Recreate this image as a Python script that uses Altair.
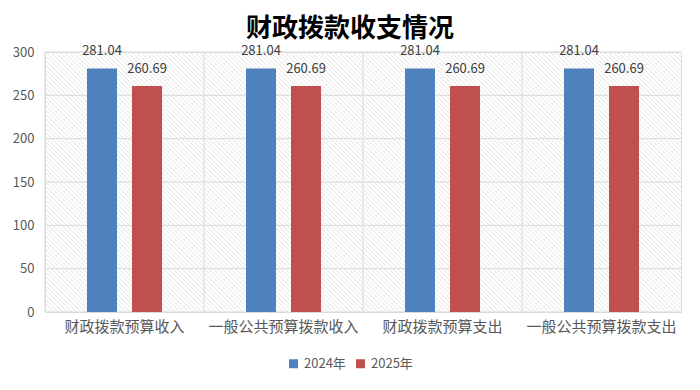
import altair as alt
import pandas as pd
import numpy as np

categories = ["财政拨款预算收入", "一般公共预算拨款收入", "财政拨款预算支出", "一般公共预算拨款支出"]
years = ["2024年", "2025年"]
values_2024 = [281.04, 281.04, 281.04, 281.04]
values_2025 = [260.69, 260.69, 260.69, 260.69]
y_ticks = [0, 50, 100, 150, 200, 250, 300]
colors = ["#4F81BD", "#C0504D"]

W, H = 636, 260
FONT = "Noto Sans CJK SC"

rows = []
for c, a, b in zip(categories, values_2024, values_2025):
    rows.append({"cat": c, "year": years[0], "value": a})
    rows.append({"cat": c, "year": years[1], "value": b})
df = pd.DataFrame(rows)

# decorative diagonal hatch for the plot background
unit = H / 300.0
xmax = W / unit
starts = np.arange(-300, xmax + 6, 4.5 / unit)
hatch = pd.DataFrame({"x0": starts, "x1": starts + 300, "y0": 300.0, "y1": 0.0})

yscale = alt.Scale(domain=[0, 300], nice=False)
yaxis = alt.Axis(title=None, orient="left", values=y_ticks, domain=False, ticks=False, grid=False,
                 labelFont=FONT, labelFontSize=13, labelColor="#595959", labelPadding=11)

hatch_layer = alt.Chart(hatch).mark_rule(color="#e2e2e2", strokeWidth=1, clip=True).encode(
    x=alt.X("x0:Q", scale=alt.Scale(domain=[0, xmax], nice=False, zero=False), axis=None),
    x2="x1:Q",
    y=alt.Y("y0:Q", scale=yscale, axis=yaxis),
    y2="y1:Q",
)

xscale = alt.Scale(domain=categories, paddingInner=0, paddingOuter=0)
offscale = alt.Scale(domain=years, paddingInner=1/3, paddingOuter=0.933)

grid_h = alt.Chart(pd.DataFrame({"t": y_ticks})).mark_rule(color="#d9d9d9", strokeWidth=1).encode(
    y=alt.Y("t:Q", scale=yscale, axis=yaxis)
)

vsep = alt.Chart(pd.DataFrame({"cat": categories})).mark_rule(color="#d9d9d9", strokeWidth=1).encode(
    x=alt.X("cat:N", scale=xscale, bandPosition=0, axis=None)
)

bars = alt.Chart(df).mark_bar().encode(
    x=alt.X("cat:N", scale=xscale, sort=categories,
            axis=alt.Axis(title=None, orient="bottom", labelAngle=0, domain=False, ticks=False,
                          labelFont=FONT, labelFontSize=15, labelColor="#595959",
                          labelPadding=7, grid=False, labelOverlap=False)),
    xOffset=alt.XOffset("year:N", scale=offscale),
    y=alt.Y("value:Q", scale=yscale, axis=yaxis),
    color=alt.Color("year:N", scale=alt.Scale(domain=years, range=colors),
                    legend=alt.Legend(title=None, orient="none", direction="horizontal",
                                      legendX=242, legendY=305, symbolType="square",
                                      symbolSize=81, symbolStrokeWidth=0,
                                      labelFont=FONT, labelFontSize=13, labelColor="#595959",
                                      labelOffset=4, columnPadding=8)),
)

text = alt.Chart(df).mark_text(baseline="alphabetic", dy=-13, font=FONT, fontSize=13, color="#404040").encode(
    x=alt.X("cat:N", scale=xscale, sort=categories, axis=None),
    xOffset=alt.XOffset("year:N", scale=offscale),
    y=alt.Y("value:Q", scale=yscale, axis=yaxis),
    text=alt.Text("value:Q", format=".2f"),
)

chart = alt.layer(hatch_layer, grid_h, vsep, bars, text).resolve_scale(x="independent").properties(
    width=W, height=H,
    title=alt.TitleParams("财政拨款收支情况", font=FONT, fontSize=26, fontWeight="bold",
                          color="#000000", anchor="middle", dx=-13, offset=3),
    autosize=alt.AutoSizeParams(type="none"),
    padding={"left": 37, "top": 44, "right": 11, "bottom": 70},
).configure_view(stroke="#d9d9d9", strokeWidth=1).configure(background="white")

chart.save("out.html", embed_options={"renderer": "svg", "actions": False})
